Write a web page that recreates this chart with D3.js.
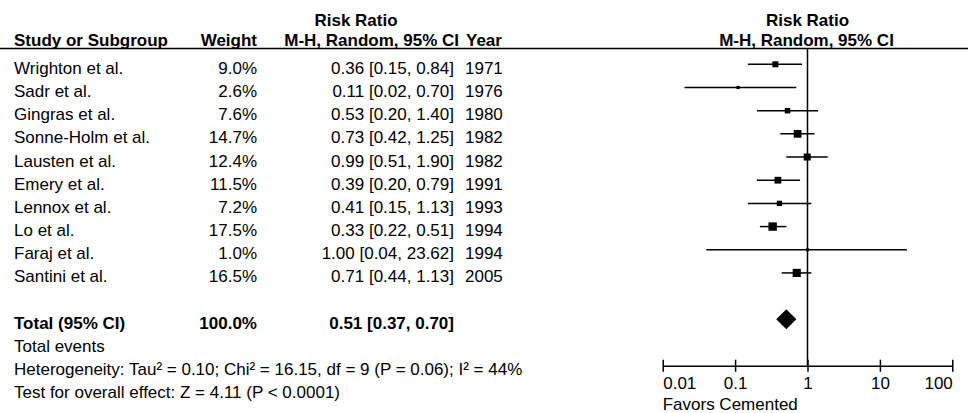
<!DOCTYPE html>
<html>
<head>
<meta charset="utf-8">
<script src="https://cdn.jsdelivr.net/npm/d3@7"></script>
<style>
  body { margin: 0; background: #fff; }
  svg { display: block; font-family: "Liberation Sans", Arial, sans-serif; }
  text { fill: #000; }
</style>
</head>
<body>
<div id="chart"></div>
<script>
const width = 968
const height = 413

// data
const studies = ["Wrighton et al.", "Sadr et al.", "Gingras et al.", "Sonne-Holm et al.", "Lausten et al.",
                 "Emery et al.", "Lennox et al.", "Lo et al.", "Faraj et al.", "Santini et al."]
const weights = [9.0, 2.6, 7.6, 14.7, 12.4, 11.5, 7.2, 17.5, 1.0, 16.5]
const ratios = [0.36, 0.11, 0.53, 0.73, 0.99, 0.39, 0.41, 0.33, 1.00, 0.71]
const lowers = [0.15, 0.02, 0.20, 0.42, 0.51, 0.20, 0.15, 0.22, 0.04, 0.44]
const uppers = [0.84, 0.70, 1.40, 1.25, 1.90, 0.79, 1.13, 0.51, 23.62, 1.13]
const years = [1971, 1976, 1980, 1982, 1982, 1991, 1993, 1994, 1994, 2005]

const totalWeight = 100.0
const totalRatio = 0.51
const totalLower = 0.37
const totalUpper = 0.70

const tickValues = [0.01, 0.1, 1, 10, 100]
const tickLabels = ["0.01", "0.1", "1", "10", "100"]

const footnotes = [
    "Total events",
    "Heterogeneity: Tau\u00b2 = 0.10; Chi\u00b2 = 16.15, df = 9 (P = 0.06); I\u00b2 = 44%",
    "Test for overall effect: Z = 4.11 (P < 0.0001)"
]

const fmt = d3.format(".2f")
const fontSize = 17

const svg = d3.select("div#chart").append("svg").attr("width", width).attr("height", height)

// scales
const x = d3.scaleLog().domain([0.01, 100]).range([662.7, 952.3])
const y = d3.scaleLinear().domain([0, 11]).range([64.3, 319.3])
const axisY = 365.7
const textDy = 9.5

// column positions
const col = { study: 14, weight: 257, ratio: 454, year: 465 }

// headers
const head = svg.append("g").attr("font-weight", "bold").style("font-size", fontSize + "px")
head.append("text").attr("x", 356).attr("y", 26).attr("text-anchor", "middle").text("Risk Ratio")
head.append("text").attr("x", x(1)).attr("y", 26).attr("text-anchor", "middle").text("Risk Ratio")
head.append("text").attr("x", col.study).attr("y", 46).text("Study or Subgroup")
head.append("text").attr("x", col.weight).attr("y", 46).attr("text-anchor", "end").text("Weight")
head.append("text").attr("x", 459).attr("y", 46).attr("text-anchor", "end").text("M-H, Random, 95% CI")
head.append("text").attr("x", col.year + 1).attr("y", 46).text("Year")
head.append("text").attr("x", x(1) - 1).attr("y", 46).attr("text-anchor", "middle").text("M-H, Random, 95% CI")

svg.append("line").attr("x1", 0).attr("x2", width).attr("y1", 48.5).attr("y2", 48.5)
    .attr("stroke", "#000").attr("stroke-width", 1.5)

// study rows
const rows = svg.append("g").style("font-size", fontSize + "px")
    .selectAll("g").data(studies).join("g")
    .attr("transform", (d, i) => `translate(0, ${y(i) + textDy})`)

rows.append("text").attr("x", col.study).text(d => d)
rows.append("text").attr("x", col.weight).attr("text-anchor", "end").text((d, i) => weights[i].toFixed(1) + "%")
rows.append("text").attr("x", col.ratio).attr("text-anchor", "end")
    .text((d, i) => `${fmt(ratios[i])} [${fmt(lowers[i])}, ${fmt(uppers[i])}]`)
rows.append("text").attr("x", col.year).text((d, i) => years[i])

// total row
const tot = svg.append("g").attr("font-weight", "bold").style("font-size", fontSize + "px")
    .attr("transform", `translate(0, ${y(11) + textDy})`)
tot.append("text").attr("x", col.study).text("Total (95% CI)")
tot.append("text").attr("x", col.weight).attr("text-anchor", "end").text(totalWeight.toFixed(1) + "%")
tot.append("text").attr("x", col.ratio).attr("text-anchor", "end")
    .text(`${fmt(totalRatio)} [${fmt(totalLower)}, ${fmt(totalUpper)}]`)

svg.append("g").style("font-size", fontSize + "px")
    .selectAll("text").data(footnotes).join("text")
    .attr("x", col.study)
    .attr("y", (d, i) => y(12 + i) + textDy)
    .text(d => d)

// forest plot
const plot = svg.append("g")

plot.append("line").attr("x1", x(1)).attr("x2", x(1)).attr("y1", 48.5).attr("y2", axisY)
    .attr("stroke", "#000").attr("stroke-width", 1.5)

plot.selectAll("line.ci").data(studies).join("line")
    .attr("class", "ci")
    .attr("x1", (d, i) => x(lowers[i]))
    .attr("x2", (d, i) => x(uppers[i]))
    .attr("y1", (d, i) => y(i))
    .attr("y2", (d, i) => y(i))
    .attr("stroke", "#000").attr("stroke-width", 1.5)

const side = w => Math.max(3, 2 * Math.sqrt(w))
plot.selectAll("rect").data(studies).join("rect")
    .attr("x", (d, i) => x(ratios[i]) - side(weights[i]) / 2)
    .attr("y", (d, i) => y(i) - side(weights[i]) / 2)
    .attr("width", (d, i) => side(weights[i]))
    .attr("height", (d, i) => side(weights[i]))
    .attr("fill", "#000")

const dy = y(11)
plot.append("path")
    .attr("d", `M${x(totalLower)},${dy} L${x(totalRatio)},${dy - 10} L${x(totalUpper)},${dy} L${x(totalRatio)},${dy + 10} Z`)
    .attr("fill", "#000")

// axis
const xAxis = d3.axisBottom(x).tickValues(tickValues).tickFormat((d, i) => tickLabels[i]).tickSizeOuter(0)
const axisGroup = svg.append("g").attr("transform", `translate(0, ${axisY})`).call(xAxis)
axisGroup.select(".domain").attr("stroke", "#000").attr("stroke-width", 1.5)
axisGroup.selectAll(".tick line").attr("y1", -6).attr("y2", 6).attr("stroke", "#000").attr("stroke-width", 1.5)
axisGroup.selectAll(".tick text")
    .attr("y", 23.8).attr("dy", null)
    .style("font-size", fontSize + "px")
    .style("font-family", "'Liberation Sans', Arial, sans-serif")
    .attr("fill", "#000")
    .attr("text-anchor", (d, i) => i == 0 ? "start" : i == tickValues.length - 1 ? "end" : "middle")

svg.append("text").attr("x", x(0.01)).attr("y", 409.5).style("font-size", fontSize + "px").text("Favors Cemented")
</script>
</body>
</html>
